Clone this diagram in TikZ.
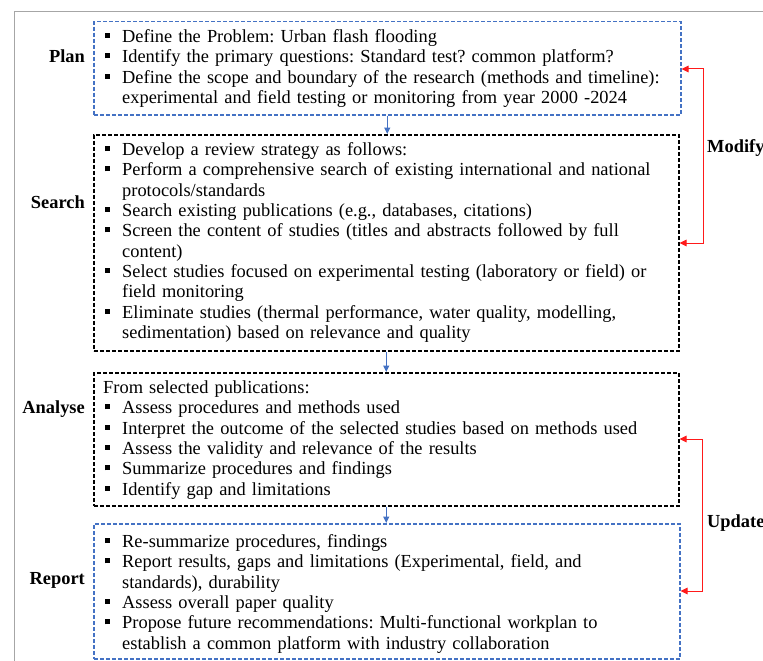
\documentclass[tikz,border=0pt]{standalone}
\usepackage{fontspec}
\setmainfont{Liberation Serif}
\usetikzlibrary{arrows.meta}
\definecolor{wblue}{HTML}{4472C4}
\definecolor{wred}{HTML}{FF1A1A}
\definecolor{frame}{HTML}{A6A6A6}
\newcommand\sqb{\makebox[17.5pt][l]{\rule[4.5pt]{5pt}{5pt}}}
\newcommand\cnt{\hspace*{17.5pt}}
\frenchspacing
\begin{document}
\begin{tikzpicture}[x=1pt,y=-1pt,
  boxk/.style={draw=black, dash pattern=on 4pt off 2pt, line width=1.5pt, inner sep=0, anchor=north west},
  boxb/.style={draw=wblue, dash pattern=on 4pt off 2pt, line width=1.5pt, inner sep=0, anchor=north west},
  txt/.style={anchor=base west, inner sep=0, text width=600pt, align=left, font=\fontsize{18.4}{20.33}\selectfont},
  lab/.style={anchor=base east, inner sep=0, font=\fontsize{18.4}{20}\selectfont\bfseries},
  side/.style={anchor=base west, inner sep=0, font=\fontsize{18.4}{20}\selectfont\bfseries},
  barr/.style={draw=wblue, line width=1.4pt, -{Triangle[length=6.5pt,width=6pt]}},
  rarr/.style={draw=wred, line width=1pt, {Triangle[length=7pt,width=6.5pt]}-{Triangle[length=7pt,width=6.5pt]}}
]
\fill[white] (0,0) rectangle (763,661);
\useasboundingbox (0,0) rectangle (763,661);
\draw[frame, line width=1pt] (14,12) rectangle (800,700);

% boxes
\node[boxb, minimum width=587pt, minimum height=93pt] (plan) at (93,21) {};
\node[boxk, minimum width=585pt, minimum height=216pt] (search) at (93,134) {};
\node[boxk, minimum width=585pt, minimum height=133pt] (analyse) at (93,372) {};
\node[boxb, minimum width=586pt, minimum height=135pt] (report) at (93,523) {};

% texts
\node[txt] (plantxt) at (104.5,42.5) {\sqb Define the Problem: Urban flash flooding\\
\sqb Identify the primary questions: Standard test? common platform?\\
\sqb Define the scope and boundary of the research (methods and timeline):\\
\cnt experimental and field testing or monitoring from year 2000 -2024};

\node[txt] (searchtxt) at (104.5,155.5) {\sqb Develop a review strategy as follows:\\
\sqb Perform a comprehensive search of existing international and national\\
\cnt protocols/standards\\
\sqb Search existing publications (e.g., databases, citations)\\
\sqb Screen the content of studies (titles and abstracts followed by full\\
\cnt content)\\
\sqb Select studies focused on experimental testing (laboratory or field) or\\
\cnt field monitoring\\
\sqb Eliminate studies (thermal performance, water quality, modelling,\\
\cnt sedimentation) based on relevance and quality};

\node[txt] (analysetxt) at (104.5,393.5) {\hspace*{-1.5pt}From selected publications:\\
\sqb Assess procedures and methods used\\
\sqb Interpret the outcome of the selected studies based on methods used\\
\sqb Assess the validity and relevance of the results\\
\sqb Summarize procedures and findings\\
\sqb Identify gap and limitations};

\node[txt] (reporttxt) at (104.5,547.5) {\sqb Re-summarize procedures, findings\\
\sqb Report results, gaps and limitations (Experimental, field, and\\
\cnt standards), durability\\
\sqb Assess overall paper quality\\
\sqb Propose future recommendations: Multi-functional workplan to\\
\cnt establish a common platform with industry collaboration};

% labels
\node[lab] (planlab) at (85,62.8) {Plan};
\node[lab] (searchlab) at (85,208.8) {Search};
\node[lab] (analyselab) at (85,413.5) {Analyse};
\node[lab] (reportlab) at (85,584.8) {Report};

% flow arrows
\draw[barr] (plan.south) -- (plan.south |- search.north);
\draw[barr] (search.south) -- (search.south |- analyse.north);
\draw[barr] (analyse.south) -- (analyse.south |- report.north);

% feedback brackets
\coordinate (mtop) at (703,69);
\coordinate (mbot) at (703,243);
\coordinate (utop) at (702,439);
\coordinate (ubot) at (702,591);
\draw[rarr] (plan.east |- mtop) -- (mtop) -- (mbot) -- (search.east |- mbot);
\draw[rarr] (analyse.east |- utop) -- (utop) -- (ubot) -- (report.east |- ubot);
\node[side] (modify) at (707,152.8) {Modify};
\node[side] (update) at (707,527.8) {Update};
\end{tikzpicture}
\end{document}
